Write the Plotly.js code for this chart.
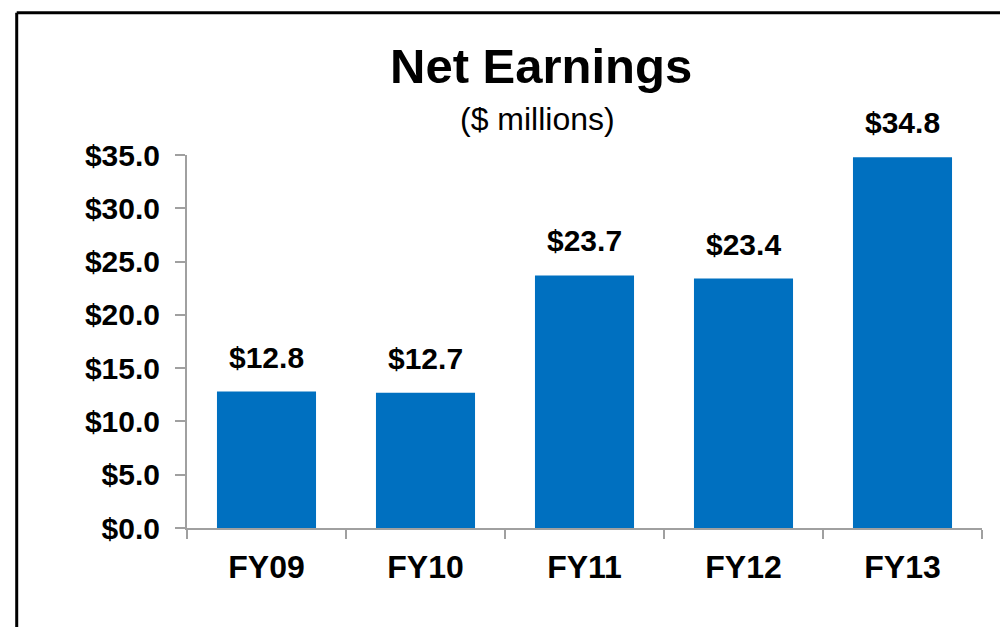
<!DOCTYPE html>
<html>
<head>
<meta charset="utf-8">
<script src="https://cdn.plot.ly/plotly-3.0.1.min.js"></script>
<style>
html,body{margin:0;padding:0;background:#fff;}
#chart{width:1000px;height:627px;}
</style>
</head>
<body>
<div id="chart"></div>
<script>
const categories = ["FY09", "FY10", "FY11", "FY12", "FY13"];
const earnings = [12.8, 12.7, 23.7, 23.4, 34.8];
const valueLabels = ["$12.8", "$12.7", "$23.7", "$23.4", "$34.8"];
const yTickValues = [0, 5, 10, 15, 20, 25, 30, 35];
const yTickLabels = ["$0.0", "$5.0", "$10.0", "$15.0", "$20.0", "$25.0", "$30.0", "$35.0"];
const chartTitle = "Net Earnings";
const chartSubtitle = "($ millions)";

const FONT = "Liberation Sans, Arial, sans-serif";

const trace = {
  type: "bar",
  x: categories,
  y: earnings,
  marker: {color: "#0070C0", line: {width: 0}},
  hoverinfo: "none"
};

const annotations = categories.map((c, i) => ({
  x: c, y: earnings[i], xref: "x", yref: "y",
  text: "<b>" + valueLabels[i] + "</b>",
  showarrow: false, yanchor: "bottom", yshift: 16,
  font: {family: FONT, size: 30, color: "#000"}
}));

annotations.push({
  xref: "paper", yref: "paper", x: 0.445, y: 1.2386,
  xanchor: "center", yanchor: "middle",
  text: "<b>" + chartTitle + "</b>", showarrow: false,
  font: {family: FONT, size: 49, color: "#000"}
});
annotations.push({
  xref: "paper", yref: "paper", x: 0.441, y: 1.097,
  xanchor: "center", yanchor: "middle",
  text: chartSubtitle, showarrow: false,
  font: {family: FONT, size: 32, color: "#000"}
});

const layout = {
  width: 1000, height: 627,
  margin: {l: 187, r: 18, t: 155, b: 99, pad: 0},
  paper_bgcolor: "#fff", plot_bgcolor: "#fff",
  showlegend: false,
  bargap: 0.377,
  xaxis: {
    type: "category",
    showline: true, linecolor: "#A0A0A0", linewidth: 2,
    ticks: "outside", tickson: "boundaries", ticklen: 9, tickcolor: "#A0A0A0", tickwidth: 2,
    ticklabelstandoff: 10,
    tickfont: {family: FONT, size: 32, color: "#000", weight: "bold"},
    showgrid: false, zeroline: false, fixedrange: true
  },
  yaxis: {
    range: [0, 35],
    tickvals: yTickValues, ticktext: yTickLabels,
    showline: true, linecolor: "#A0A0A0", linewidth: 2,
    ticks: "outside", ticklen: 10, tickcolor: "#A0A0A0", tickwidth: 2,
    ticklabelstandoff: 9,
    tickfont: {family: FONT, size: 30, color: "#000", weight: "bold"},
    showgrid: false, zeroline: false, fixedrange: true
  },
  annotations: annotations,
  shapes: [
    {type: "line", xref: "paper", yref: "paper", x0: -0.2142, x1: -0.2142, y0: 1.3815, y1: -0.4,
     line: {color: "#000", width: 3}},
    {type: "line", xref: "paper", yref: "paper", x0: -0.2142, x1: 1.1, y0: 1.3815, y1: 1.3815,
     line: {color: "#000", width: 3}}
  ]
};

Plotly.newPlot("chart", [trace], layout, {displayModeBar: false, staticPlot: true});
</script>
</body>
</html>
